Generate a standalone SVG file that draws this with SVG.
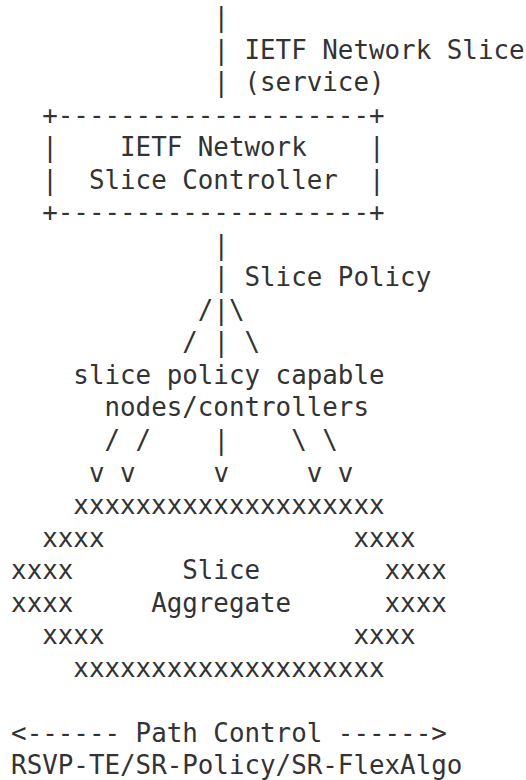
<svg xmlns="http://www.w3.org/2000/svg" width="526" height="780" viewBox="0 0 526 780">
<style>
text{font-family:"DejaVu Sans Mono",monospace;font-size:25.85px;fill:#333;white-space:pre}
</style>
<rect width="526" height="780" fill="#fff"/>
<g id="connectors">
<text x="213.38" y="26.2">|</text>
<text x="213.38" y="58.7">|</text>
<text x="213.38" y="91.2">|</text>
<text x="213.38" y="253.8">|</text>
<text x="213.38" y="286.4">|</text>
<text x="197.82" y="318.9">/</text>
<text x="213.38" y="318.9">|</text>
<text x="228.94" y="318.9">\</text>
<text x="182.26" y="351.4">/</text>
<text x="213.38" y="351.4">|</text>
<text x="244.5" y="351.4">\</text>
<text x="104.46" y="449">/</text>
<text x="135.58" y="449">/</text>
<text x="213.38" y="449">|</text>
<text x="291.18" y="449">\</text>
<text x="322.3" y="449">\</text>
<text x="88.9" y="481.5">v</text>
<text x="120.02" y="481.5">v</text>
<text x="213.38" y="481.5">v</text>
<text x="306.74" y="481.5">v</text>
<text x="337.86" y="481.5">v</text>
</g>
<g id="service-label">
<text x="244.5" y="58.7">IETF Network Slice</text>
<text x="244.5" y="91.2">(service)</text>
</g>
<g id="controller">
<text x="42.22" y="123.8">+--------------------+</text>
<text x="42.22" y="156.3">|</text>
<text x="120.02" y="156.3">IETF Network</text>
<text x="368.98" y="156.3">|</text>
<text x="42.22" y="188.8">|</text>
<text x="88.9" y="188.8">Slice Controller</text>
<text x="368.98" y="188.8">|</text>
<text x="42.22" y="221.3">+--------------------+</text>
</g>
<g id="policy-label">
<text x="244.5" y="286.4">Slice Policy</text>
</g>
<g id="capable-nodes">
<text x="73.34" y="383.9">slice policy capable</text>
<text x="104.46" y="416.4">nodes/controllers</text>
</g>
<g id="slice-aggregate">
<text x="73.34" y="514">xxxxxxxxxxxxxxxxxxxx</text>
<text x="42.22" y="546.5">xxxx</text>
<text x="353.42" y="546.5">xxxx</text>
<text x="11.1" y="579">xxxx</text>
<text x="182.26" y="579">Slice</text>
<text x="384.54" y="579">xxxx</text>
<text x="11.1" y="611.6">xxxx</text>
<text x="151.14" y="611.6">Aggregate</text>
<text x="384.54" y="611.6">xxxx</text>
<text x="42.22" y="644.1">xxxx</text>
<text x="353.42" y="644.1">xxxx</text>
<text x="73.34" y="676.6">xxxxxxxxxxxxxxxxxxxx</text>
</g>
<g id="path-control">
<text x="11.1" y="741.7">&lt;------ Path Control ------&gt;</text>
<text x="11.1" y="774">RSVP-TE/SR-Policy/SR-FlexAlgo</text>
</g>
</svg>
